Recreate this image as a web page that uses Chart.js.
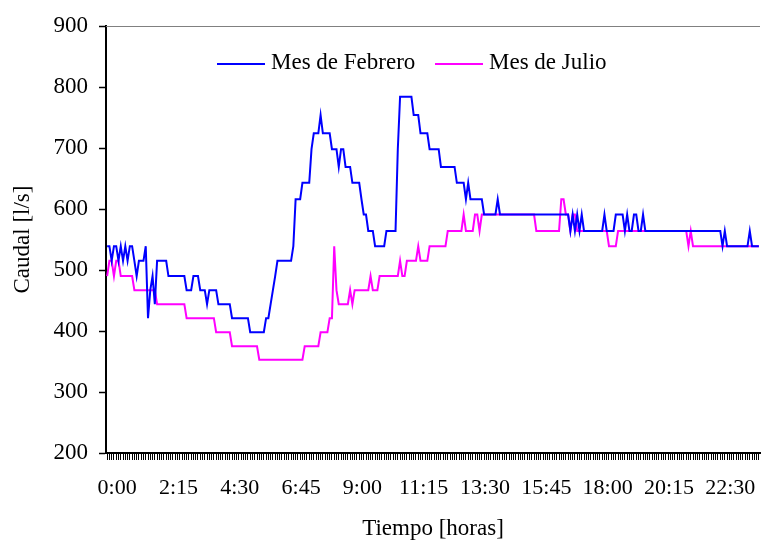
<!DOCTYPE html>
<html lang="es">
<head>
    <meta charset="UTF-8">
    <title>Caudal - Febrero / Julio</title>
    <script src="https://cdn.jsdelivr.net/npm/chart.js"></script>
    <style>
        body {
            margin: 0;
            background: #ffffff;
        }
        .chart-box {
            width: 762px;
            height: 541px;
        }
    </style>
</head>
<body>
    <div class="chart-box">
        <canvas id="caudalChart"></canvas>
    </div>

    <script>
        // Tick labels shown on the time axis (every 2:15)
        const tickLabels = ['0:00', '2:15', '4:30', '6:45', '9:00', '11:15', '13:30', '15:45', '18:00', '20:15', '22:30'];
        const labelEvery = 27; // 27 samples of 5 min = 2:15

        // Caudal [l/s], one sample every 5 minutes (288 per day)
        const febrero = [
            539,539,515,539,539,515,539,515,539,515,539,539,
            515,490,515,515,515,539,421,467,490,444,515,515,515,
            515,515,490,490,490,490,490,490,490,490,467,467,467,
            490,490,490,467,467,467,444,467,467,467,467,444,
            444,444,444,444,444,421,421,421,421,421,421,421,
            421,398,398,398,398,398,398,398,421,421,444,467,
            490,515,515,515,515,515,515,515,539,616,616,616,
            643,643,643,643,698,724,724,724,754,724,724,724,
            724,698,698,698,669,698,698,669,669,669,643,643,
            643,643,616,591,591,564,564,564,539,539,539,539,
            539,564,564,564,564,564,698,784,784,784,784,784,
            784,754,754,754,724,724,724,724,698,698,698,698,
            698,669,669,669,669,669,669,669,643,643,643,643,
            616,643,616,616,616,616,616,616,591,591,591,591,
            591,591,616,591,591,591,591,591,591,591,591,591,
            591,591,591,591,591,591,591,591,591,591,591,591,
            591,591,591,591,591,591,591,591,591,591,564,591,
            564,591,564,591,564,564,564,564,564,564,564,564,
            564,591,564,564,564,564,591,591,591,591,564,591,
            564,564,591,591,564,564,591,564,564,564,564,564,
            564,564,564,564,564,564,564,564,564,564,564,564,
            564,564,564,564,564,564,564,564,564,564,564,564,
            564,564,564,564,564,539,564,539,539,539,539,539,
            539,539,539,539,539,564,539,539,539,539
        ];
        const julio = [
            490,515,515,490,515,515,490,490,490,490,490,490,
            467,467,467,467,467,467,467,467,467,467,444,444,444,
            444,444,444,444,444,444,444,444,444,444,421,421,
            421,421,421,421,421,421,421,421,421,421,421,398,
            398,398,398,398,398,398,375,375,375,375,375,375,
            375,375,375,375,375,375,353,353,353,353,353,353,
            353,353,353,353,353,353,353,353,353,353,353,353,
            353,353,375,375,375,375,375,375,375,398,398,398,
            398,421,421,539,467,444,444,444,444,444,467,444,
            467,467,467,467,467,467,467,490,467,467,467,490,
            490,490,490,490,490,490,490,490,515,490,490,515,
            515,515,515,515,539,515,515,515,515,539,539,539,
            539,539,539,539,539,564,564,564,564,564,564,564,
            591,564,564,564,564,591,591,564,591,591,591,591,
            591,591,591,591,591,591,591,591,591,591,591,591,
            591,591,591,591,591,591,591,591,564,564,564,564,
            564,564,564,564,564,564,564,616,616,591,591,564,
            591,591,564,564,564,564,564,564,564,564,564,564,
            564,564,564,564,539,539,539,539,564,564,564,564,
            564,564,564,564,564,564,564,564,564,564,564,564,
            564,564,564,564,564,564,564,564,564,564,564,564,
            564,564,564,539,564,539,539,539,539,539,539,539,
            539,539,539,539,539,539,539,539,539,539,539,539,
            539,539,539,539,539,539,539,539,539,539,539
        ];

        // one category per 5-minute sample
        const horas = febrero.map((_, i) => Math.floor(i / 12) + ':' + String((i % 12) * 5).padStart(2, '0'));

        const serif = 'Liberation Serif, Times New Roman, serif';

        // legend drawn inside the plot, like the original
        const innerLegend = {
            id: 'innerLegend',
            afterDraw(chart) {
                const ctx = chart.ctx;
                const area = chart.chartArea;
                ctx.save();
                // thin grey border at top of plot area
                ctx.strokeStyle = '#808080';
                ctx.lineWidth = 1;
                ctx.beginPath();
                ctx.moveTo(area.left, area.top + 0.5);
                ctx.lineTo(area.right, area.top + 0.5);
                ctx.stroke();

                ctx.font = '23px ' + serif;
                ctx.textBaseline = 'middle';
                ctx.fillStyle = '#000';
                chart.data.datasets.forEach((ds, i) => {
                    const x = i === 0 ? 217 : 435;
                    ctx.strokeStyle = ds.borderColor;
                    ctx.lineWidth = 2;
                    ctx.beginPath();
                    ctx.moveTo(x, 64);
                    ctx.lineTo(x + 48, 64);
                    ctx.stroke();
                    ctx.fillText(ds.label, x + 54, 63);
                });
                ctx.restore();
            }
        };

        new Chart(document.getElementById('caudalChart'), {
            type: 'line',
            data: {
                labels: horas,
                datasets: [
                    {
                        label: 'Mes de Febrero',
                        data: febrero,
                        borderColor: '#0000ff',
                        borderWidth: 2,
                        pointRadius: 0,
                        tension: 0,
                        fill: false
                    },
                    {
                        label: 'Mes de Julio',
                        data: julio,
                        borderColor: '#ff00ff',
                        borderWidth: 2,
                        pointRadius: 0,
                        tension: 0,
                        fill: false
                    }
                ]
            },
            options: {
                responsive: true,
                maintainAspectRatio: false,
                animation: false,
                layout: { padding: { top: 26, right: 2, left: 0, bottom: 0 } },
                plugins: {
                    legend: { display: false },
                    tooltip: { enabled: false }
                },
                scales: {
                    x: {
                        type: 'category',
                        offset: true,
                        afterFit: (scale) => {
                            scale.height = 88;
                            scale.paddingLeft = 0;
                            scale.paddingRight = 0;
                        },
                        border: { color: '#000', width: 2 },
                        grid: {
                            drawOnChartArea: false,
                            drawTicks: true,
                            tickLength: 7,
                            tickColor: '#000',
                            tickWidth: 1
                        },
                        ticks: {
                            autoSkip: false,
                            maxRotation: 0,
                            minRotation: 0,
                            padding: 15,
                            labelOffset: 10,
                            color: '#000',
                            font: { family: serif, size: 22 },
                            callback: (val, i) => (i % labelEvery === 0 ? tickLabels[i / labelEvery] : '')
                        },
                        title: {
                            display: true,
                            text: 'Tiempo [horas]',
                            color: '#000',
                            font: { family: serif, size: 23 },
                            padding: { top: 0, bottom: -2 }
                        }
                    },
                    y: {
                        min: 200,
                        max: 900,
                        afterFit: (scale) => { scale.width = 106; },
                        border: { color: '#000', width: 2 },
                        grid: {
                            drawOnChartArea: false,
                            drawTicks: true,
                            tickLength: 7,
                            tickColor: '#000',
                            tickWidth: 1.5
                        },
                        ticks: {
                            stepSize: 100,
                            padding: 11,
                            color: '#000',
                            font: { family: serif, size: 23 }
                        },
                        title: {
                            display: true,
                            text: 'Caudal [l/s]',
                            color: '#000',
                            font: { family: serif, size: 23 },
                            padding: { top: 9, bottom: 0 }
                        }
                    }
                }
            },
            plugins: [innerLegend]
        });
    </script>
</body>
</html>
